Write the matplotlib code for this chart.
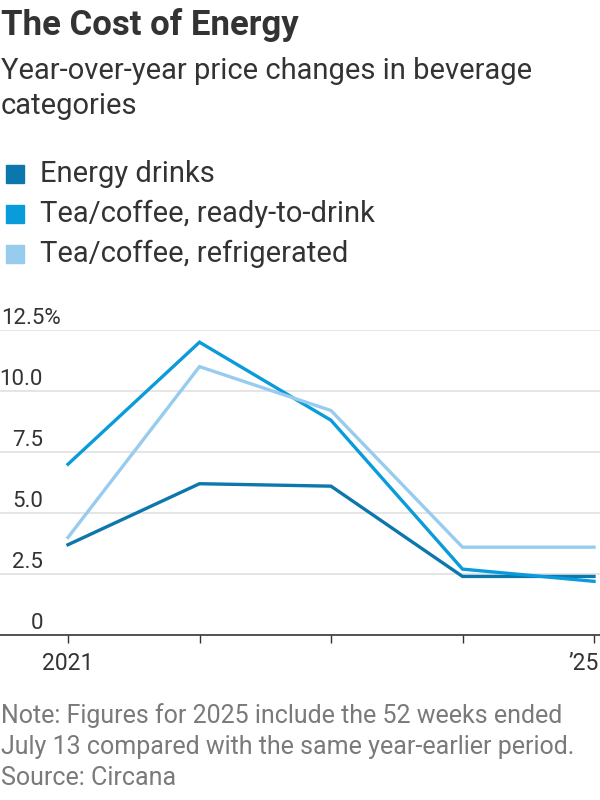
import matplotlib
matplotlib.use("Agg")
import matplotlib.pyplot as plt
from matplotlib.patches import Rectangle
from matplotlib.transforms import blended_transform_factory

# data
years = [2021, 2022, 2023, 2024, 2025]
energy_drinks = [3.7, 6.2, 6.1, 2.4, 2.4]
tea_rtd = [7.0, 12.0, 8.8, 2.7, 2.2]
tea_fridge = [4.0, 11.0, 9.2, 3.6, 3.6]
series_names = ["Energy drinks", "Tea/coffee, ready-to-drink", "Tea/coffee, refrigerated"]
series_colors = ["#0b77ad", "#0a9bdb", "#97ccef"]
y_ticks = [0, 2.5, 5.0, 7.5, 10.0, 12.5]
y_labels = ["0", "2.5", "5.0", "7.5", "10.0", "12.5%"]
x_labels = ["2021", "", "", "", "\u201925"]

FONT = ["Roboto", "DejaVu Sans"]
TXT = "#333333"

fig = plt.figure(figsize=(6, 8), dpi=100)
W, H = 600, 800

def fx(px):
    return px / W

def fy(py):
    return 1 - py / H

# headings
fig.text(fx(1), fy(35), "The Cost of Energy", fontsize=25, fontweight="bold",
         color=TXT, family=FONT, va="baseline")
fig.text(fx(1), fy(79), "Year-over-year price changes in beverage", fontsize=21,
         color=TXT, family=FONT, va="baseline")
fig.text(fx(1), fy(114), "categories", fontsize=21, color=TXT, family=FONT, va="baseline")

# legend, square swatches
for i, (name, col) in enumerate(zip(series_names, series_colors)):
    cy = 174 + 40 * i
    fig.patches.append(Rectangle((fx(6), fy(cy + 9)), fx(18), 18 / H, color=col,
                                 transform=fig.transFigure, figure=fig))
    fig.text(fx(40), fy(cy), name, fontsize=21, color=TXT, family=FONT, va="center")

# plot area
ax = fig.add_axes([0, fy(635), 1, (635 - 330) / H])
data = [energy_drinks, tea_rtd, tea_fridge]
for vals, col in zip(data, series_colors):
    ax.plot(years, vals, color=col, lw=2.4, solid_joinstyle="miter", clip_on=False, zorder=3)

ax.set_xlim(2021 - 68 / 131.5, 2025 + 6 / 131.5)
ax.set_ylim(0, 12.5)
for s in ["top", "right", "left"]:
    ax.spines[s].set_visible(False)
ax.spines["bottom"].set_color(TXT)
ax.spines["bottom"].set_linewidth(1.2)
ax.set_yticks(y_ticks[1:])
ax.yaxis.grid(True, color="#e0e0e0", lw=1.2)
ax.tick_params(axis="y", length=0, labelleft=False)
ax.set_xticks(years)
ax.tick_params(axis="x", length=6, width=1, color=TXT, direction="out", labelbottom=False)
ax.set_axisbelow(True)

# y labels sit above the gridlines
tr = blended_transform_factory(ax.transAxes, ax.transData)
for v, lab in zip(y_ticks, y_labels):
    if lab.endswith("%"):
        ax.text(0.002, v + 0.24, lab, transform=tr, ha="left", va="baseline",
                fontsize=16, color=TXT, family=FONT)
    else:
        ax.text(43 / W, v + 0.24, lab, transform=tr, ha="right", va="baseline",
                fontsize=16, color=TXT, family=FONT)

# x labels
for yr, lab in zip(years, x_labels):
    if lab:
        ha = "right" if yr == years[-1] else "center"
        xx = yr + 0.035 if yr == years[-1] else yr
        ax.text(xx, -1.15, lab, ha=ha, va="center", fontsize=16.5, color=TXT, family=FONT,
                clip_on=False)

# footnotes
notes = ["Note: Figures for 2025 include the 52 weeks ended",
         "July 13 compared with the same year-earlier period.",
         "Source: Circana"]
for i, line in enumerate(notes):
    fig.text(fx(1), fy(723 + 31 * i), line, fontsize=18, color="#7a7a7a", family=FONT,
             va="baseline")

fig.savefig("out.png", dpi=100)
